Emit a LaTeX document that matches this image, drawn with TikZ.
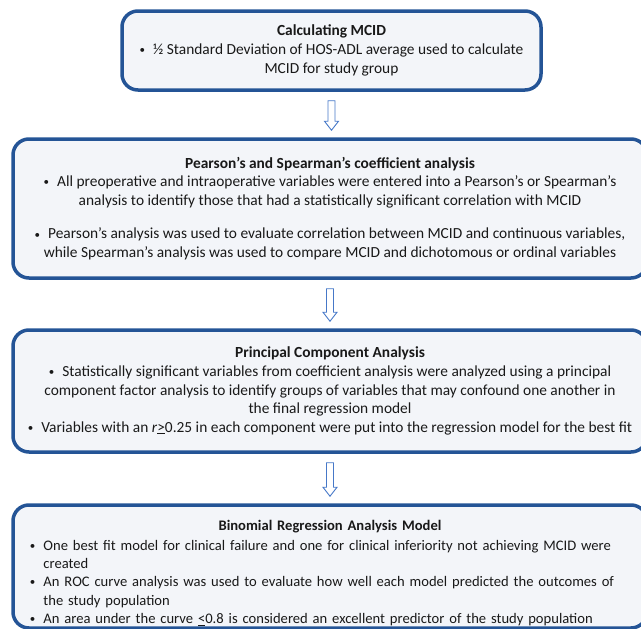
\documentclass[tikz,border=0pt]{standalone}
\usepackage{fontspec}
\setmainfont{Carlito}
\usetikzlibrary{calc}

\definecolor{boxblue}{RGB}{36,84,150}
\definecolor{boxfill}{RGB}{243,245,249}
\definecolor{arrowblue}{RGB}{70,120,200}
\definecolor{textgray}{RGB}{25,25,25}

\newcommand{\itembullet}{{\fontsize{11}{11}\selectfont\raisebox{0.8pt}{\textbullet}}\hspace{8pt}}

\tikzset{
  stepbox/.style={draw=boxblue, line width=3.5pt, fill=boxfill, rounded corners=16pt,
    align=center, text=textgray, font=\fontsize{15.4}{18.6}\selectfont, inner sep=0pt},
  flowarrow/.style={draw=arrowblue, fill=white, line width=0.9pt, to path={
    ($(\tikztostart.south)+(-3.5,9)$)
    -- ($(\tikztostart.south |- \tikztotarget.north)+(-3.5,-16)$)
    -- ($(\tikztostart.south |- \tikztotarget.north)+(-7,-16)$)
    -- ($(\tikztostart.south |- \tikztotarget.north)+(0,-7)$)
    -- ($(\tikztostart.south |- \tikztotarget.north)+(7,-16)$)
    -- ($(\tikztostart.south |- \tikztotarget.north)+(3.5,-16)$)
    -- ($(\tikztostart.south)+(3.5,9)$) -- cycle}}
}

\begin{document}
\begin{tikzpicture}[x=1pt, y=-1pt]
  \useasboundingbox (0,0) rectangle (641,629);

  \node[stepbox, minimum width=419pt, minimum height=79pt] (mcid) at (331.5,50.5)
    {\textbf{Calculating MCID}\\
     \itembullet ½ Standard Deviation of HOS-ADL average used to calculate\\
     MCID for study group};

  \node[stepbox, minimum width=634pt, minimum height=139pt] (coeff) at (330,208.5)
    {\textbf{Pearson’s and Spearman’s coefficient analysis}\\
     \itembullet All preoperative and intraoperative variables were entered into a Pearson’s or Spearman’s\\
     analysis to identify those that had a statistically significant correlation with MCID\\[15pt]
     \itembullet Pearson’s analysis was used to evaluate correlation between MCID and continuous variables,\\
     while Spearman’s analysis was used to compare MCID and dichotomous or ordinal variables};

  \node[stepbox, minimum width=634pt, minimum height=122pt] (pca) at (330,391)
    {\textbf{Principal Component Analysis}\\
     \itembullet Statistically significant variables from coefficient analysis were analyzed using a principal\\
     component factor analysis to identify groups of variables that may confound one another in\\
     the final regression model\\
     \itembullet Variables with an \textit{r}\underline{>}0.25 in each component were put into the regression model for the best fit};

  \node[stepbox, minimum width=634pt, minimum height=123pt, text width=600pt, align=left,
        font=\fontsize{14.6}{18.3}\selectfont] (regr) at (330,566.5)
    {\rule{0pt}{23pt}\makebox[\linewidth]{\textbf{Binomial Regression Analysis Model}}\\[1.5pt]
     \itembullet One best fit model for clinical failure and one for clinical inferiority not achieving MCID were\\
     \hphantom{\itembullet}created\\
     \itembullet An ROC curve analysis was used to evaluate how well each model predicted the outcomes of\\
     \hphantom{\itembullet}the study population\\
     \itembullet An area under the curve \underline{<}0.8 is considered an excellent predictor of the study population};

  \draw[flowarrow] (mcid) to (coeff);
  \draw[flowarrow] (coeff) to (pca);
  \draw[flowarrow] (pca) to (regr);
\end{tikzpicture}
\end{document}
